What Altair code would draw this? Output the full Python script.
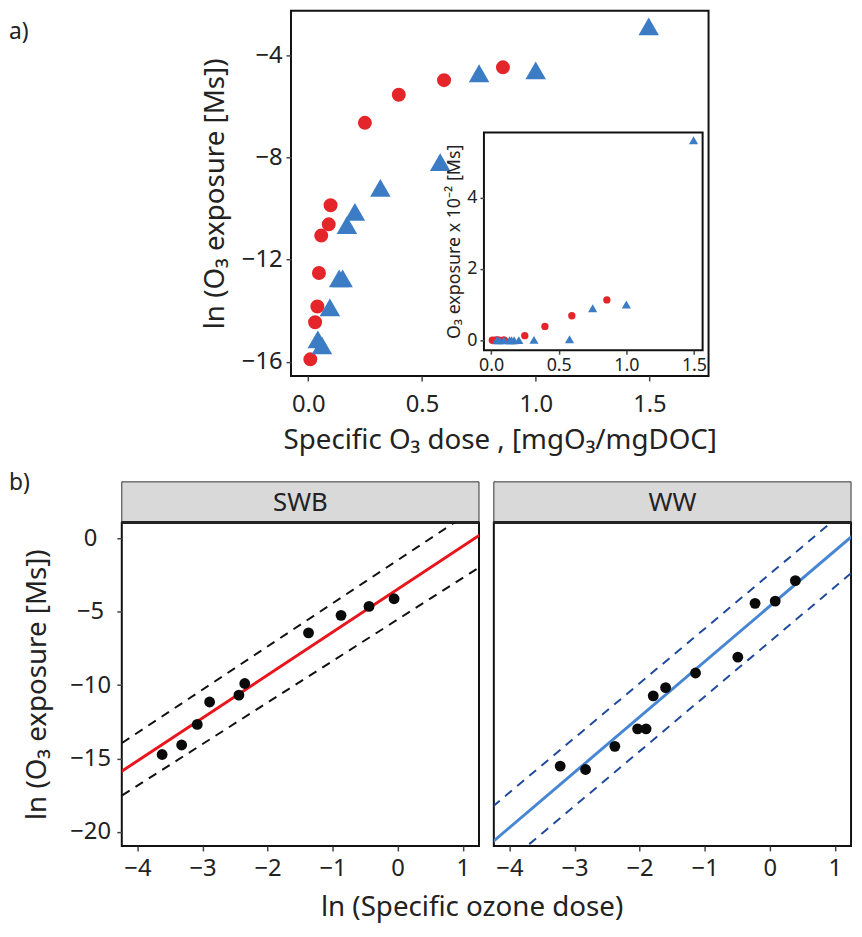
import altair as alt
import pandas as pd

FONT = "Noto Sans"
RED = "#e4262b"
BLUE = "#3b7cc4"
RED_LINE = "#e8161c"
BLUE_LINE = "#4786d2"
BLUE_DASH = "#1f4a9c"
BLACK_DASH = "#111111"

# ---------------- panel a data ----------------
swb_dose = [0.009, 0.03, 0.04, 0.047, 0.057, 0.09, 0.098, 0.249, 0.398, 0.597, 0.856]
swb_ln = [-15.9, -14.45, -13.83, -12.52, -11.06, -10.62, -9.87, -6.65, -5.55, -4.98, -4.48]
ww_dose = [0.042, 0.06, 0.095, 0.136, 0.151, 0.17, 0.205, 0.317, 0.58, 0.751, 1.0, 1.497]
ww_ln = [-15.12, -15.35, -13.87, -12.73, -12.73, -10.65, -10.13, -9.19, -8.19, -4.71, -4.6, -2.88]

# ---------------- panel b data ----------------
swb_lndose = [-3.62, -3.32, -3.08, -2.89, -2.44, -2.35, -1.37, -0.87, -0.44, -0.055]
swb_lnexp = [-14.73, -14.08, -12.68, -11.15, -10.68, -9.89, -6.44, -5.25, -4.64, -4.12]
ww_lndose = [-3.22, -2.83, -2.38, -2.03, -1.90, -1.79, -1.60, -1.14, -0.49, -0.225, 0.085, 0.395]
ww_lnexp = [-15.52, -15.75, -14.17, -12.98, -12.98, -10.73, -10.17, -9.18, -8.10, -4.43, -4.28, -2.88]

# fitted line and prediction band lines (slope, intercept)
line_panel = ["SWB", "SWB", "SWB", "WW", "WW", "WW"]
line_kind = ["fit", "upper", "lower", "fit", "upper", "lower"]
line_slope = [2.924, 2.94, 2.83, 3.77, 3.72, 3.73]
line_intercept = [-3.47, -1.49, -5.53, -4.63, -2.44, -7.05]

# axis ticks
a_x_ticks = [0, 0.5, 1.0, 1.5]
a_y_ticks = [-16, -12, -8, -4]
inset_x_ticks = [0, 0.5, 1.0, 1.5]
inset_y_ticks = [0, 2, 4]
b_x_ticks = [-4, -3, -2, -1, 0, 1]
b_y_ticks = [-20, -15, -10, -5, 0]

# ---------------- layout constants ----------------
A_W, A_H = 422, 369
A_X_DOM = [-0.076, 1.76]
A_Y_DOM = [-16.55, -2.27]
INSET_X_RANGE = [195, 416]
INSET_Y_RANGE = [343, 123]
INSET_X_DOM = [-0.053, 1.564]
INSET_Y_DOM = [-0.28, 5.83]

B_W, B_H = 361, 327
B_X_DOM = [-4.24, 1.25]
B_Y_DOM = [-20.96, 1.08]
B_GAP = 15
A_LEFT = 285     # left offset of panel a plot
B_LEFT = 114     # left offset of panel b plots
ROW_GAP = 517    # vertical offset of panel b plots below panel a plot

one = pd.DataFrame({"t": [""]})


def spacer(w, h):
    return alt.Chart(one).mark_point(opacity=0).properties(
        width=w, height=h, view=alt.ViewBackground(stroke="transparent"))


# ================= panel a =================
a_df = pd.DataFrame({
    "dose": swb_dose + ww_dose,
    "ln": swb_ln + ww_ln,
    "water": ["SWB"] * len(swb_dose) + ["WW"] * len(ww_dose),
})

ax_main = alt.X("dose:Q", scale=alt.Scale(domain=A_X_DOM, nice=False, zero=False),
                axis=alt.Axis(values=a_x_ticks, format=".1f", title="Specific O₃ dose , [mgO₃/mgDOC]",
                              labelFontSize=24, titleFontSize=28, tickSize=5, labelPadding=12,
                              titlePadding=10, domain=False))
ay_main = alt.Y("ln:Q", scale=alt.Scale(domain=A_Y_DOM, nice=False, zero=False),
                axis=alt.Axis(values=a_y_ticks, title="ln (O₃ exposure [Ms])", labelFontSize=24,
                              titleFontSize=28, tickSize=5, labelPadding=4, titlePadding=12, domain=False))

base_a = alt.Chart(a_df)
main_circ = base_a.transform_filter("datum.water == 'SWB'").mark_point(
    shape="circle", filled=True, opacity=1, color=RED, size=200).encode(x=ax_main, y=ay_main)
main_tri = base_a.transform_filter("datum.water == 'WW'").mark_point(
    shape="triangle-up", filled=True, opacity=1, color=BLUE, size=430).encode(x=ax_main, y=ay_main)
label_a = alt.Chart(pd.DataFrame({"t": ["a)"]})).mark_text(
    align="left", baseline="alphabetic", fontSize=23, color="#222").encode(
    text="t:N", x=alt.value(-A_LEFT), y=alt.value(28))
main_layer = alt.layer(main_circ, main_tri, label_a)

ix = alt.X("dose:Q", scale=alt.Scale(domain=INSET_X_DOM, range=INSET_X_RANGE, nice=False, zero=False),
           axis=alt.Axis(orient="bottom", offset=-(A_H - INSET_Y_RANGE[0]), values=inset_x_ticks,
                         format=".1f", title=None, labelFontSize=18, tickSize=4, labelPadding=2,
                         domain=False, zindex=2))
iy = alt.Y("inset_y:Q", scale=alt.Scale(domain=INSET_Y_DOM, range=INSET_Y_RANGE, nice=False, zero=False),
           axis=alt.Axis(orient="left", offset=-INSET_X_RANGE[0], values=inset_y_ticks,
                         title="O₃ exposure x 10⁻² [Ms]", titleFontSize=18, labelFontSize=18,
                         tickSize=4, labelPadding=3, titlePadding=3, domain=False, zindex=2))

inset_frame = alt.Chart(one).mark_rect(fill="white", stroke="#111", strokeWidth=2).encode(
    x=alt.value(INSET_X_RANGE[0]), x2=alt.value(INSET_X_RANGE[1]),
    y=alt.value(INSET_Y_RANGE[1]), y2=alt.value(INSET_Y_RANGE[0]))
inset_base = base_a.transform_calculate(inset_y="100 * exp(datum.ln)")
inset_circ = inset_base.transform_filter("datum.water == 'SWB'").mark_point(
    shape="circle", filled=True, opacity=1, color=RED, size=55).encode(x=ix, y=iy)
inset_tri = inset_base.transform_filter("datum.water == 'WW'").mark_point(
    shape="triangle-up", filled=True, opacity=1, color=BLUE, size=85).encode(x=ix, y=iy)
inset_layer = alt.layer(inset_frame, inset_circ, inset_tri)

panel_a = alt.layer(main_layer, inset_layer).resolve_scale(
    x="independent", y="independent").resolve_axis(x="independent", y="independent").properties(
    width=A_W, height=A_H)

row_a = alt.hconcat(spacer(A_LEFT, A_H), panel_a, spacing=0, bounds="flush")

# ================= panel b =================
lines_df = pd.DataFrame({"panel": line_panel, "kind": line_kind,
                         "slope": line_slope, "intercept": line_intercept})
ends_df = pd.DataFrame({"lnd": [B_X_DOM[0] - 0.2, B_X_DOM[1] + 0.2]})
lines_df = lines_df.merge(ends_df, how="cross")


def make_panel(name, xs, ys, fit_color, band_color, show_y, extra=None):
    pts_df = pd.DataFrame({"lnd": xs, "lnexp": ys})
    bx = alt.X("lnd:Q", scale=alt.Scale(domain=B_X_DOM, nice=False, zero=False),
               axis=alt.Axis(values=b_x_ticks, title=None, labelFontSize=24, tickSize=5,
                             labelPadding=6, domain=False))
    if show_y:
        y_axis = alt.Axis(values=b_y_ticks, title="ln (O₃ exposure [Ms])", titleFontSize=28,
                          labelFontSize=24, labelAlign="center", tickSize=5, labelPadding=27,
                          titlePadding=18, domain=False)
    else:
        y_axis = None
    by = alt.Y("lnexp:Q", scale=alt.Scale(domain=B_Y_DOM, nice=False, zero=False), axis=y_axis)

    lb = alt.Chart(lines_df).transform_filter(f"datum.panel == '{name}'").transform_calculate(
        lnexp="datum.intercept + datum.slope * datum.lnd")
    fit = lb.transform_filter("datum.kind == 'fit'").mark_line(
        clip=True, color=fit_color, strokeWidth=3).encode(x=bx, y=by)
    band = lb.transform_filter("datum.kind != 'fit'").mark_line(
        clip=True, color=band_color, strokeWidth=2, strokeDash=[9, 7]).encode(
        x=bx, y=by, detail="kind:N")
    pts = alt.Chart(pts_df).mark_point(shape="circle", filled=True, opacity=1,
                                       color="#0a0a0a", size=120).encode(x=bx, y=by)

    strip = alt.Chart(one).mark_rect(fill="#d9d9d9", stroke="#333", strokeWidth=1).encode(
        x=alt.value(0), x2=alt.value(B_W), y=alt.value(-41), y2=alt.value(0))
    strip_line = alt.Chart(one).mark_rule(color="#222", strokeWidth=3).encode(
        x=alt.value(0), x2=alt.value(B_W), y=alt.value(0))
    strip_text = alt.Chart(pd.DataFrame({"t": [name]})).mark_text(
        fontSize=26, color="#222", baseline="middle").encode(
        text="t:N", x=alt.value(B_W / 2), y=alt.value(-20))
    layers = [strip, strip_line, strip_text, band, fit, pts]
    if extra:
        layers.extend(extra)
    return alt.layer(*layers).properties(width=B_W, height=B_H)


label_b = alt.Chart(pd.DataFrame({"t": ["b)"]})).mark_text(
    align="left", baseline="alphabetic", fontSize=23, color="#222").encode(
    text="t:N", x=alt.value(-B_LEFT), y=alt.value(-33))
b_title = alt.Chart(pd.DataFrame({"t": ["ln (Specific ozone dose)"]})).mark_text(
    align="center", baseline="alphabetic", fontSize=28, color="#222").encode(
    text="t:N", x=alt.value(354), y=alt.value(398))

left = make_panel("SWB", swb_lndose, swb_lnexp, RED_LINE, BLACK_DASH, True, [label_b, b_title])
right = make_panel("WW", ww_lndose, ww_lnexp, BLUE_LINE, BLUE_DASH, False)

row_b = alt.hconcat(spacer(B_LEFT - B_GAP, B_H), left, right, spacing=B_GAP, bounds="flush")

chart = alt.vconcat(row_a, row_b, spacing=ROW_GAP, bounds="flush").properties(
    padding={"left": 0, "top": -3, "right": 0, "bottom": 0}
).configure_axis(
    labelFont=FONT, titleFont=FONT, grid=False, tickColor="#444", tickWidth=1.5,
    labelColor="#222", titleColor="#222", titleFontWeight="normal"
).configure_view(stroke="#111", strokeWidth=2).configure_text(font=FONT).configure_title(font=FONT)

chart.save("out.html", embed_options={"renderer": "svg", "actions": False})
